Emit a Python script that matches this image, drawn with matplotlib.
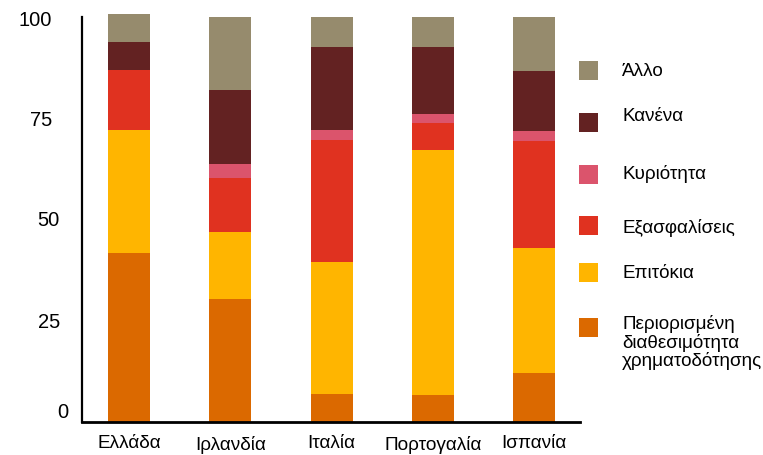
import matplotlib
matplotlib.use("Agg")
import matplotlib.pyplot as plt
from matplotlib.patches import Rectangle
import matplotlib.transforms as mtransforms
import numpy as np

plt.rcParams['font.family'] = ['Liberation Sans', 'DejaVu Sans']

countries = ["Ελλάδα", "Ιρλανδία", "Ιταλία", "Πορτογαλία", "Ισπανία"]

# stacked shares per country (bottom to top)
periorismeni = [41.7, 30.4, 6.9, 6.7, 12.1]
epitokia = [30.4, 16.5, 32.6, 60.5, 30.9]
exasfaliseis = [14.8, 13.3, 30.1, 6.6, 26.4]
kyriotita = [0.0, 3.5, 2.5, 2.2, 2.5]
kanena = [6.9, 18.3, 20.5, 16.6, 14.8]
allo = [6.9, 18.0, 7.4, 7.4, 13.3]

series_labels = ["Περιορισμένη\nδιαθεσιμότητα\nχρηματοδότησης", "Επιτόκια",
                 "Εξασφαλίσεις", "Κυριότητα", "Κανένα", "Άλλο"]
series_values = [periorismeni, epitokia, exasfaliseis, kyriotita, kanena, allo]
series_colors = ["#DB6900", "#FFB500", "#E03220", "#DB546C", "#632222", "#968B6D"]

ytick_values = [0, 25, 50, 75, 100]

W, H = 763, 456
fig = plt.figure(figsize=(W / 100, H / 100), dpi=100)
ax = fig.add_axes([82 / W, 1 - 423 / H, (580 - 82) / W, (423 - 18) / H])

x = np.arange(len(countries))
bottom = np.zeros(len(countries))
for vals, col in zip(series_values, series_colors):
    v = np.array(vals)
    ax.bar(x, v, bottom=bottom, width=0.415, color=col, linewidth=0, clip_on=False)
    bottom += v

ax.set_xlim(-0.465, 4.455)
ax.set_ylim(0, 100)
ax.set_xticks(x)
ax.set_xticklabels(countries, fontsize=13.7)
ax.tick_params(axis='x', length=0, pad=9)
ax.set_yticks([])

for s in ("top", "right"):
    ax.spines[s].set_visible(False)
ax.spines["left"].set_linewidth(1.6)
ax.spines["bottom"].set_linewidth(2.0)
ax.spines["left"].set_color("black")
ax.spines["bottom"].set_color("black")

# y labels, placed individually in pixel x positions
label_right = {100: 52, 75: 52, 50: 60, 25: 60, 0: 68}
label_y = {100: 99.3, 75: 74.6, 50: 49.9, 25: 24.9, 0: 2.5}
ytrans = mtransforms.blended_transform_factory(fig.transFigure, ax.transData)
for t in ytick_values:
    ax.text(label_right[t] / W, label_y[t], str(t), fontsize=14.5,
            ha="right", va="center", transform=ytrans)

# legend, top to bottom
legend_order = list(range(len(series_labels)))[::-1]
square_centers = [71, 123, 175, 226, 273, 328]
text_centers = [71, 117, 174, 228, 273, 325]
sq = 19
for i, k in enumerate(legend_order):
    cy = square_centers[i]
    fig.patches.append(Rectangle((579 / W, 1 - (cy + sq / 2) / H), sq / W, sq / H,
                                 transform=fig.transFigure, color=series_colors[k],
                                 linewidth=0))
    if "\n" in series_labels[k]:
        fig.text(622 / W, 1 - (text_centers[i] - 10) / H, series_labels[k],
                 fontsize=13.6, ha="left", va="top", linespacing=1.05)
    else:
        fig.text(622 / W, 1 - text_centers[i] / H, series_labels[k],
                 fontsize=13.6, ha="left", va="center")

fig.savefig("out.png", dpi=100)
